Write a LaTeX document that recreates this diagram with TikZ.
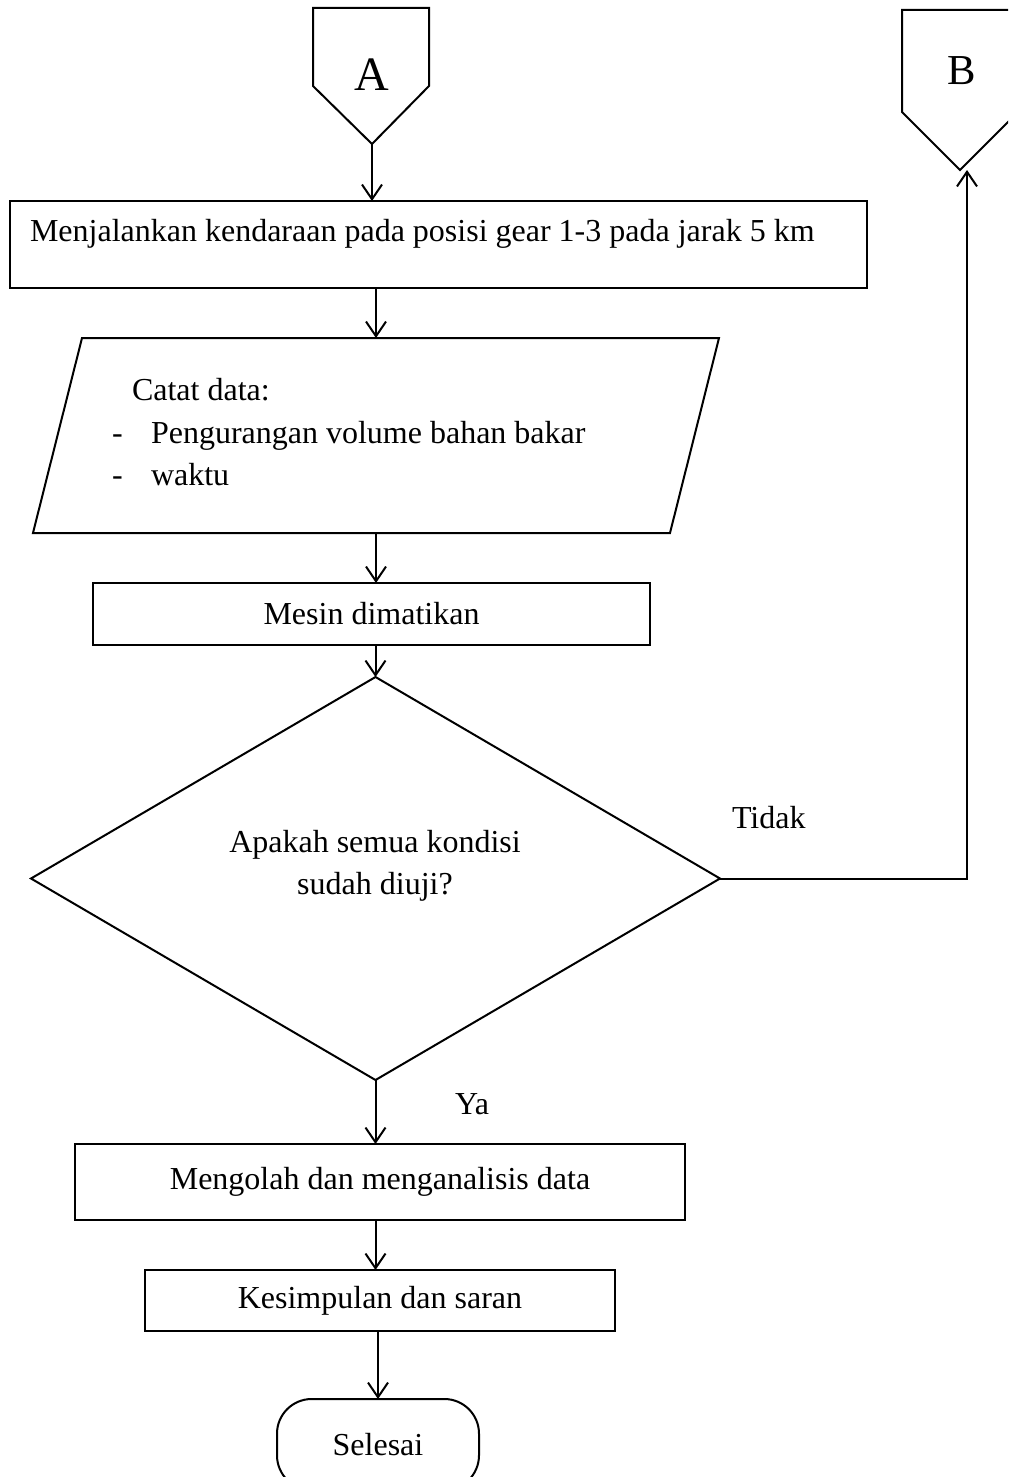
\documentclass[tikz,border=0pt]{standalone}
\usepackage{fontspec}
\setmainfont{Liberation Serif}
\usetikzlibrary{arrows.meta,shapes.geometric}
\begin{document}
\begin{tikzpicture}[x=0.75pt,y=-0.75pt,
  line width=1.5pt,
  txt/.style={inner sep=0pt,outer sep=0pt,font=\fontsize{24}{31.5}\selectfont},
  box/.style={draw,rectangle,txt},
  arr/.style={-{Straight Barb[length=11pt,width=15pt,line width=1.5pt]}},
]
\useasboundingbox (0,0) rectangle (1008,1477);
\clip (0,0) rectangle (1008,1477);

% off-page connectors
\draw (313,8) -- (429,8) -- (429,86) -- (372,144) coordinate (Atip) -- (313,86) -- cycle;
\node[txt,font=\fontsize{36}{40}\selectfont] (Alab) at (372,75) {A};
\draw (902,10) -- (1018,10) -- (1018,112) -- (960,170) coordinate (Btip) -- (902,112) -- cycle;
\node[txt,font=\fontsize{32}{36}\selectfont] (Blab) at (962,71) {B};

% process 1
\node[box,minimum width=642.75pt,minimum height=65.25pt] (b1) at (438.5,244.5) {};
\node[txt,anchor=base west] (t1) at (30,241) {Menjalankan kendaraan pada posisi gear 1-3 pada jarak 5 km};

% data (parallelogram)
\draw (82,338) -- (719,338) -- (670,533) -- (33,533) -- cycle;
\coordinate (ptop) at (376,338);
\coordinate (pbot) at (376,533);
\node[txt,anchor=base west] (pa) at (132,400) {Catat data:};
\node[txt,anchor=base west] (pb1) at (112,443) {-};
\node[txt,anchor=base west] (pb) at (151,443) {Pengurangan volume bahan bakar};
\node[txt,anchor=base west] (pc1) at (112,485) {-};
\node[txt,anchor=base west] (pc) at (151,485) {waktu};

% process 2
\node[box,minimum width=417.75pt,minimum height=46.5pt] (b2) at (371.5,614) {Mesin dimatikan};

% decision
\node[draw,diamond,inner sep=0pt,outer sep=0pt,minimum width=516.75pt,minimum height=302.25pt] (d) at (375.5,878.5) {};
\node[txt,align=center] (dt) at (375,866) {Apakah semua kondisi\\sudah diuji?};
\node[txt,anchor=base west] (tidak) at (732,828) {Tidak};
\node[txt,anchor=base west] (ya) at (455,1114) {Ya};

% process 3, 4
\node[box,minimum width=457.5pt,minimum height=57pt] (b3) at (380,1182) {Mengolah dan menganalisis data};
\node[box,line width=1pt,minimum width=352.5pt,minimum height=45.75pt] (b4) at (380,1300.5) {Kesimpulan dan saran};

% terminator
\node[draw,txt,rounded corners=26pt,minimum width=151.5pt,minimum height=68.25pt] (end) at (378,1444.5) {Selesai};

% connectors
\coordinate (turn) at (967,878.5);
\draw[arr] (Atip) -- (Atip |- b1.north);
\draw[arr] (ptop |- b1.south) -- (ptop);
\draw[arr] (pbot) -- (pbot |- b2.north);
\draw[arr] (d.north |- b2.south) -- (d.north);
\draw[arr] (d.south) -- (d.south |- b3.north);
\draw[arr] (b3.south -| d.south) -- (b4.north -| d.south);
\draw[arr] (b4.south -| end.north) -- (end.north);
\draw[arr] (d.east) -- (turn) -- (turn |- Btip);
\end{tikzpicture}
\end{document}
